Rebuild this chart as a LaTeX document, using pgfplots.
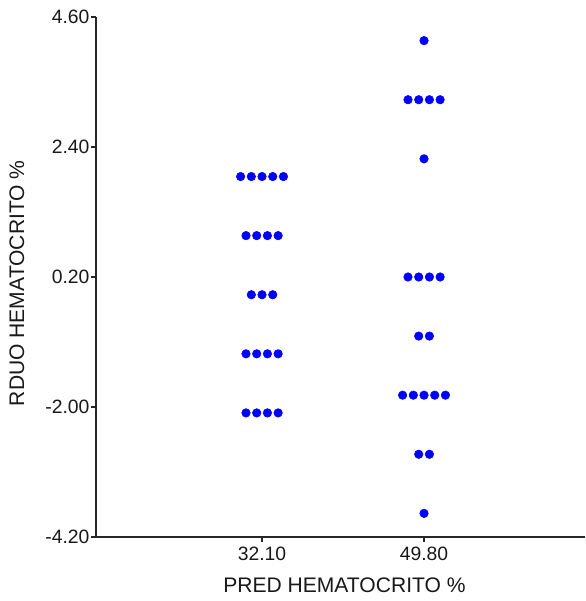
\documentclass[border=0pt]{standalone}
\usepackage{fontspec}
\setmainfont{Liberation Sans}
\usepackage{pgfplots}
\pgfplotsset{compat=1.18}
\definecolor{dotblue}{RGB}{0,0,255}
\begin{document}
\begin{tikzpicture}
\begin{axis}[
  name=ax,
  scale only axis,
  width=366.75pt, height=390pt,
  xmin=13.96, xmax=67.39,
  ymin=-4.2, ymax=4.6,
  axis x line=bottom, axis y line=left,
  axis line style={-, line width=0.8pt, black!85},
  tick style={line width=0.8pt, black!85},
  tick align=outside,
  major tick length=3.75pt,
  xtick={32.1,49.8},
  xticklabels={32.10,49.80},
  ytick={-4.2,-2.0,0.2,2.4,4.6},
  yticklabels={-4.20,-2.00,0.20,2.40,4.60},
  /pgf/number format/assume math mode=true,
  tick label style={font=\fontsize{14.5}{16}\selectfont, black!90},
  yticklabel style={inner sep=1pt},
  xlabel={PRED HEMATOCRITO \%},
  ylabel={RDUO HEMATOCRITO \%},
  label style={font=\fontsize{15.8}{18}\selectfont, black!90},
  xlabel style={at={(axis description cs:0.508,-0.0923)}, anchor=center},
  ylabel style={at={(axis description cs:-0.1616,0.488)}, anchor=center},
  clip=false,
]
\addplot[only marks, mark=*, mark size=3.2pt, dotblue, mark options={draw=dotblue, fill=dotblue}] table {
x y
29.76 1.9
30.93 1.9
32.10 1.9
33.27 1.9
34.44 1.9
30.35 0.9
31.52 0.9
32.69 0.9
33.86 0.9
30.93 -0.1
32.10 -0.1
33.27 -0.1
30.35 -1.1
31.52 -1.1
32.69 -1.1
33.86 -1.1
30.35 -2.1
31.52 -2.1
32.69 -2.1
33.86 -2.1
};
\addplot[only marks, mark=*, mark size=3.2pt, dotblue, mark options={draw=dotblue, fill=dotblue}] table {
x y
49.80 4.2
48.05 3.2
49.22 3.2
50.39 3.2
51.56 3.2
49.80 2.2
48.05 0.2
49.22 0.2
50.39 0.2
51.56 0.2
49.22 -0.8
50.39 -0.8
47.46 -1.8
48.63 -1.8
49.80 -1.8
50.97 -1.8
52.14 -1.8
49.22 -2.8
50.39 -2.8
49.80 -3.8
};
\end{axis}
\pgfresetboundingbox
\path[use as bounding box] ([shift={(-72pt,-48pt)}]ax.south west) rectangle ([shift={(0pt,12.75pt)}]ax.north east);
\end{tikzpicture}
\end{document}
